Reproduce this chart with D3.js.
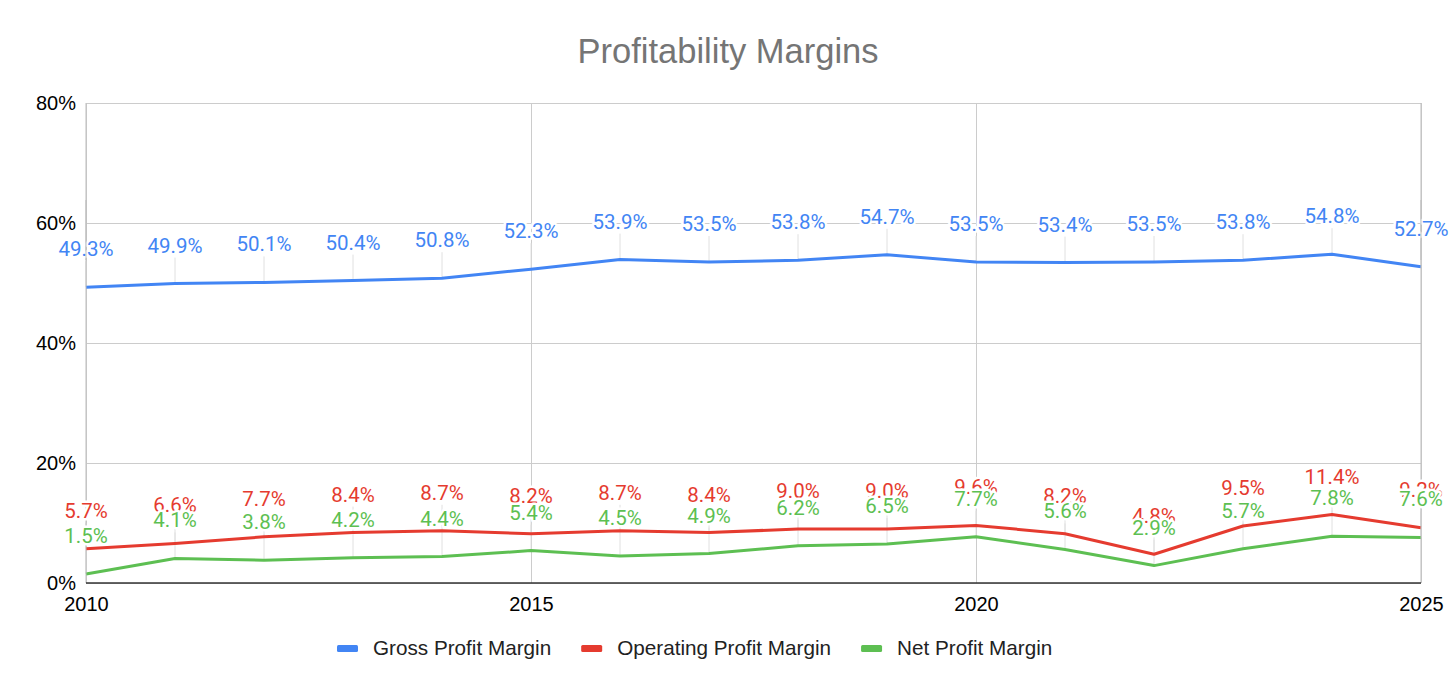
<!DOCTYPE html>
<html>
<head>
<meta charset="utf-8">
<script src="https://cdn.jsdelivr.net/npm/d3@7"></script>
<style>
  html, body { margin: 0; padding: 0; background: #fff; }
  svg { display: block; }
</style>
</head>
<body>
<svg id="chart" width="1456" height="694"></svg>
<script>
const years = [2010, 2011, 2012, 2013, 2014, 2015, 2016, 2017, 2018, 2019, 2020, 2021, 2022, 2023, 2024, 2025];
const grossMargin = [49.3, 49.9, 50.1, 50.4, 50.8, 52.3, 53.9, 53.5, 53.8, 54.7, 53.5, 53.4, 53.5, 53.8, 54.8, 52.7];
const operatingMargin = [5.7, 6.6, 7.7, 8.4, 8.7, 8.2, 8.7, 8.4, 9.0, 9.0, 9.6, 8.2, 4.8, 9.5, 11.4, 9.2];
const netMargin = [1.5, 4.1, 3.8, 4.2, 4.4, 5.4, 4.5, 4.9, 6.2, 6.5, 7.7, 5.6, 2.9, 5.7, 7.8, 7.6];
const seriesNames = ["Gross Profit Margin", "Operating Profit Margin", "Net Profit Margin"];
const seriesColors = ["#4285f4", "#e53b2f", "#5dbf52"];
const yTicks = [0, 20, 40, 60, 80];
const xTicks = [2010, 2015, 2020, 2025];
const titleText = "Profitability Margins";

const series = [grossMargin, operatingMargin, netMargin].map((vals, i) => ({
  name: seriesNames[i], color: seriesColors[i],
  values: vals.map((v, j) => ({ year: years[j], value: v }))
}));

const svg = d3.select("#chart");
const pL = 86, pR = 1421, pT = 103, pB = 583;
const x = d3.scaleLinear().domain([2010, 2025]).range([pL, pR]);
const y = d3.scaleLinear().domain([0, 80]).range([pB, pT]);

svg.append("rect").attr("width", 1456).attr("height", 694).attr("fill", "#fff");

// Title
svg.append("text").attr("x", 728).attr("y", 63).attr("text-anchor", "middle")
  .attr("font-family", "Liberation Sans, Arial, sans-serif").attr("font-size", 34.5)
  .attr("fill", "#757575").text(titleText);

// Horizontal gridlines + y labels
const yAxis = svg.append("g").attr("transform", `translate(${pL},0)`)
  .call(d3.axisLeft(y).tickValues(yTicks).tickSize(-(pR - pL)).tickPadding(10).tickFormat(d => d + "%"));
yAxis.select(".domain").remove();
yAxis.selectAll(".tick line").attr("stroke", "#cccccc").attr("stroke-width", 1);
yAxis.selectAll(".tick text").attr("font-family", "Liberation Sans, Arial, sans-serif")
  .attr("font-size", 20).attr("fill", "#000");

// Vertical gridlines + x labels
const xAxis = svg.append("g").attr("transform", `translate(0,${pB})`)
  .call(d3.axisBottom(x).tickValues(xTicks).tickSize(-(pB - pT)).tickPadding(14).tickFormat(d3.format("d")));
xAxis.select(".domain").remove();
xAxis.selectAll(".tick line").attr("stroke", "#cccccc").attr("stroke-width", 1);
xAxis.selectAll(".tick text").attr("font-family", "Liberation Sans, Arial, sans-serif")
  .attr("font-size", 20).attr("fill", "#000");

// Leader lines
const allPts = series.flatMap(s => s.values.map(v => ({ ...v, color: s.color })));
svg.append("g").selectAll("line").data(allPts).join("line")
  .attr("x1", d => x(d.year)).attr("x2", d => x(d.year))
  .attr("y1", d => y(d.value) - 26).attr("y2", d => y(d.value))
  .attr("stroke", "#e0e0e0").attr("stroke-width", 1);

// Lines
const line = d3.line().x(d => x(d.year)).y(d => y(d.value));
svg.append("g").selectAll("path").data(series).join("path")
  .attr("d", d => line(d.values)).attr("fill", "none")
  .attr("stroke", d => d.color).attr("stroke-width", 3).attr("stroke-linejoin", "round");

// Frame lines (left, right)
svg.append("line").attr("x1", pL).attr("x2", pL).attr("y1", pT).attr("y2", pB).attr("stroke", "#bdbdbd");
svg.append("line").attr("x1", pR).attr("x2", pR).attr("y1", pT).attr("y2", pB).attr("stroke", "#bdbdbd");

// Data labels
series.forEach(s => {
  svg.append("g").selectAll("text").data(s.values).join("text")
    .attr("x", d => x(d.year)).attr("y", d => y(d.value) - 31)
    .attr("text-anchor", "middle")
    .attr("font-family", "Roboto, sans-serif").attr("font-size", 20.5)
    .attr("fill", s.color)
    .attr("stroke", "#fff").attr("stroke-width", 5).attr("stroke-linejoin", "round")
    .attr("paint-order", "stroke")
    .text(d => d.value.toFixed(1) + "%");
});

// Frame lines over labels
svg.append("line").attr("x1", pL).attr("x2", pL).attr("y1", 200).attr("y2", 260).attr("stroke", "#bdbdbd");
svg.append("line").attr("x1", pR).attr("x2", pR).attr("y1", 200).attr("y2", 260).attr("stroke", "#bdbdbd");
svg.append("line").attr("x1", pL).attr("x2", pR).attr("y1", pB).attr("y2", pB)
  .attr("stroke", "#333").attr("stroke-width", 1.5);

// Legend
const legend = svg.append("g");
let lx = 337;
series.forEach(s => {
  legend.append("rect").attr("x", lx).attr("y", 645).attr("width", 21).attr("height", 7)
    .attr("rx", 1.5).attr("fill", s.color);
  const t = legend.append("text").attr("x", lx + 36).attr("y", 655)
    .attr("font-family", "Liberation Sans, Arial, sans-serif").attr("font-size", 20.7)
    .attr("fill", "#222").text(s.name);
  lx += 36 + t.node().getComputedTextLength() + 30;
});
</script>
</body>
</html>
